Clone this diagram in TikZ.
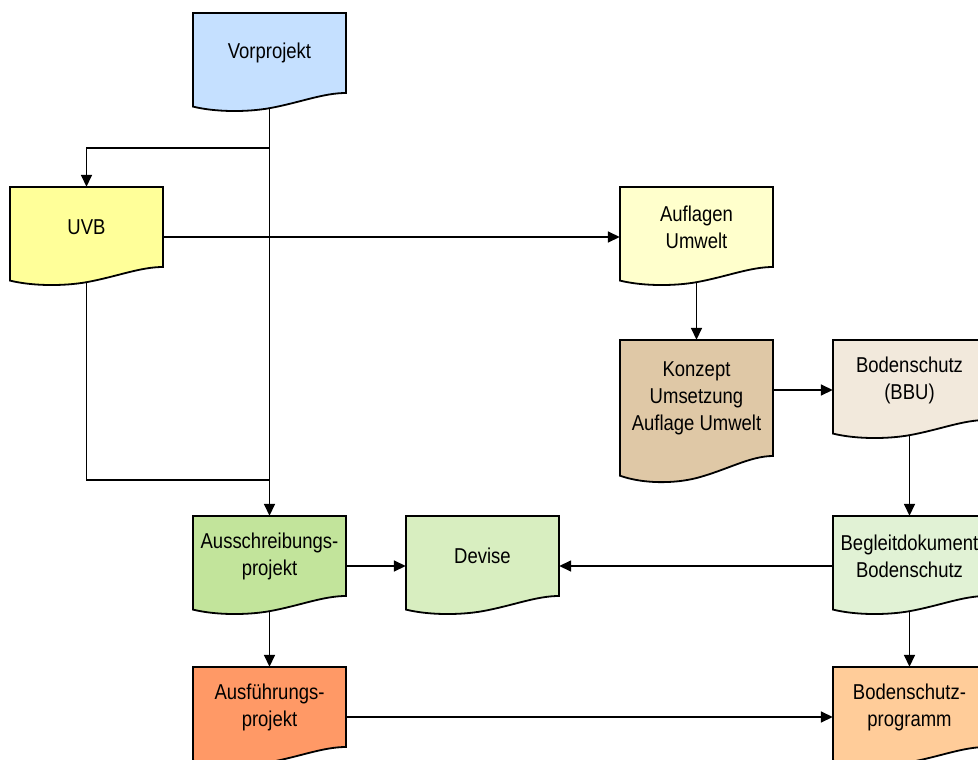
\documentclass[tikz,border=0pt]{standalone}
\usepackage{fontspec}
\setmainfont{Liberation Sans}[FakeStretch=0.86]
\usepackage{tikz}
\usetikzlibrary{arrows.meta,calc,backgrounds}
\definecolor{vorblue}{HTML}{C5E0FF}
\definecolor{uvbyellow}{HTML}{FFFF99}
\definecolor{auflyellow}{HTML}{FFFFCC}
\definecolor{konzbrown}{HTML}{DFC8A6}
\definecolor{bbusand}{HTML}{F2E9DC}
\definecolor{ausgreen}{HTML}{C2E49B}
\definecolor{devgreen}{HTML}{D8EEC0}
\definecolor{beglgreen}{HTML}{E1F2D5}
\definecolor{ausforange}{HTML}{FF9966}
\definecolor{bsporange}{HTML}{FFCC99}

\tikzset{
  docline/.style={line width=1.8pt,draw=black},
  docbox/.style={minimum width=153pt,inner sep=0pt,align=center,
    font=\fontsize{21.5}{27}\selectfont},
  link/.style={line width=1.6pt},
  flow/.style={link,-{Triangle[length=12pt,width=11pt]}}
}

% document shape: name, left, top, height, fill, text
\newcommand\docnode[6]{%
  \filldraw[docline,fill=#5] (#2,-#3) -- ({#2+153},-#3) -- ({#2+153},{-(#3+#4)})
    .. controls ({#2+0.85*153},{-(#3+#4)}) and ({#2+0.7*153},{-(#3+1.12*#4)})
    .. ({#2+0.5*153},{-(#3+1.19*#4)})
    .. controls ({#2+0.35*153},{-(#3+1.24*#4)}) and ({#2+0.15*153},{-(#3+1.24*#4)})
    .. (#2,{-(#3+1.17*#4)}) -- cycle;
  \node[docbox,minimum height=#4pt] (#1) at ({#2+76.5},{-#3-#4/2}) {#6};
}

\begin{document}
\begin{tikzpicture}[x=1pt,y=1pt]
  \useasboundingbox (0,0) rectangle (978,-760);
  \clip (0,0) rectangle (978,-760);

  \docnode{vor}{193}{13}{80}{vorblue}{Vorprojekt}
  \docnode{uvb}{10}{187}{80}{uvbyellow}{UVB}
  \docnode{aufl}{620}{187}{80}{auflyellow}{Auflagen\\Umwelt}
  \docnode{konz}{620}{340}{116}{konzbrown}{Konzept\\Umsetzung\\Auflage Umwelt}
  \docnode{bbu}{833}{340}{80}{bbusand}{Bodenschutz\\(BBU)}
  \docnode{aus}{193}{516}{80}{ausgreen}{Ausschreibungs-\\projekt}
  \docnode{dev}{406}{516}{80}{devgreen}{Devise}
  \docnode{begl}{833}{516}{80}{beglgreen}{Begleitdokument\\Bodenschutz}
  \docnode{ausf}{193}{667}{80}{ausforange}{Ausführungs-\\projekt}
  \docnode{bsp}{833}{667}{80}{bsporange}{Bodenschutz-\\programm}

  \coordinate (fork) at ($(vor.south)+(0,-55)$);
  \coordinate (join) at ($(aus.north)+(0,36)$);

  \begin{scope}[on background layer]
    \draw[flow] (vor.center) -- (aus.north);
    \draw[flow] (fork) -| (uvb.north);
    \draw[link] (uvb.center) |- (join);
    \draw[flow] ([yshift=-10pt]uvb.east) -- ([yshift=-10pt]aufl.west);
    \draw[flow] (aufl.center) -- (konz.north);
    \draw[flow] ([yshift=-10pt]bbu.west -| konz.east) -- ([yshift=-10pt]bbu.west);
    \draw[flow] (bbu.center) -- (begl.north);
    \draw[flow] ([yshift=-10pt]aus.east) -- ([yshift=-10pt]dev.west);
    \draw[flow] ([yshift=-10pt]begl.west) -- ([yshift=-10pt]dev.east);
    \draw[flow] (aus.center) -- (ausf.north);
    \draw[flow] (begl.center) -- (bsp.north);
    \draw[flow] ([yshift=-10pt]ausf.east) -- ([yshift=-10pt]bsp.west);
  \end{scope}
\end{tikzpicture}
\end{document}
